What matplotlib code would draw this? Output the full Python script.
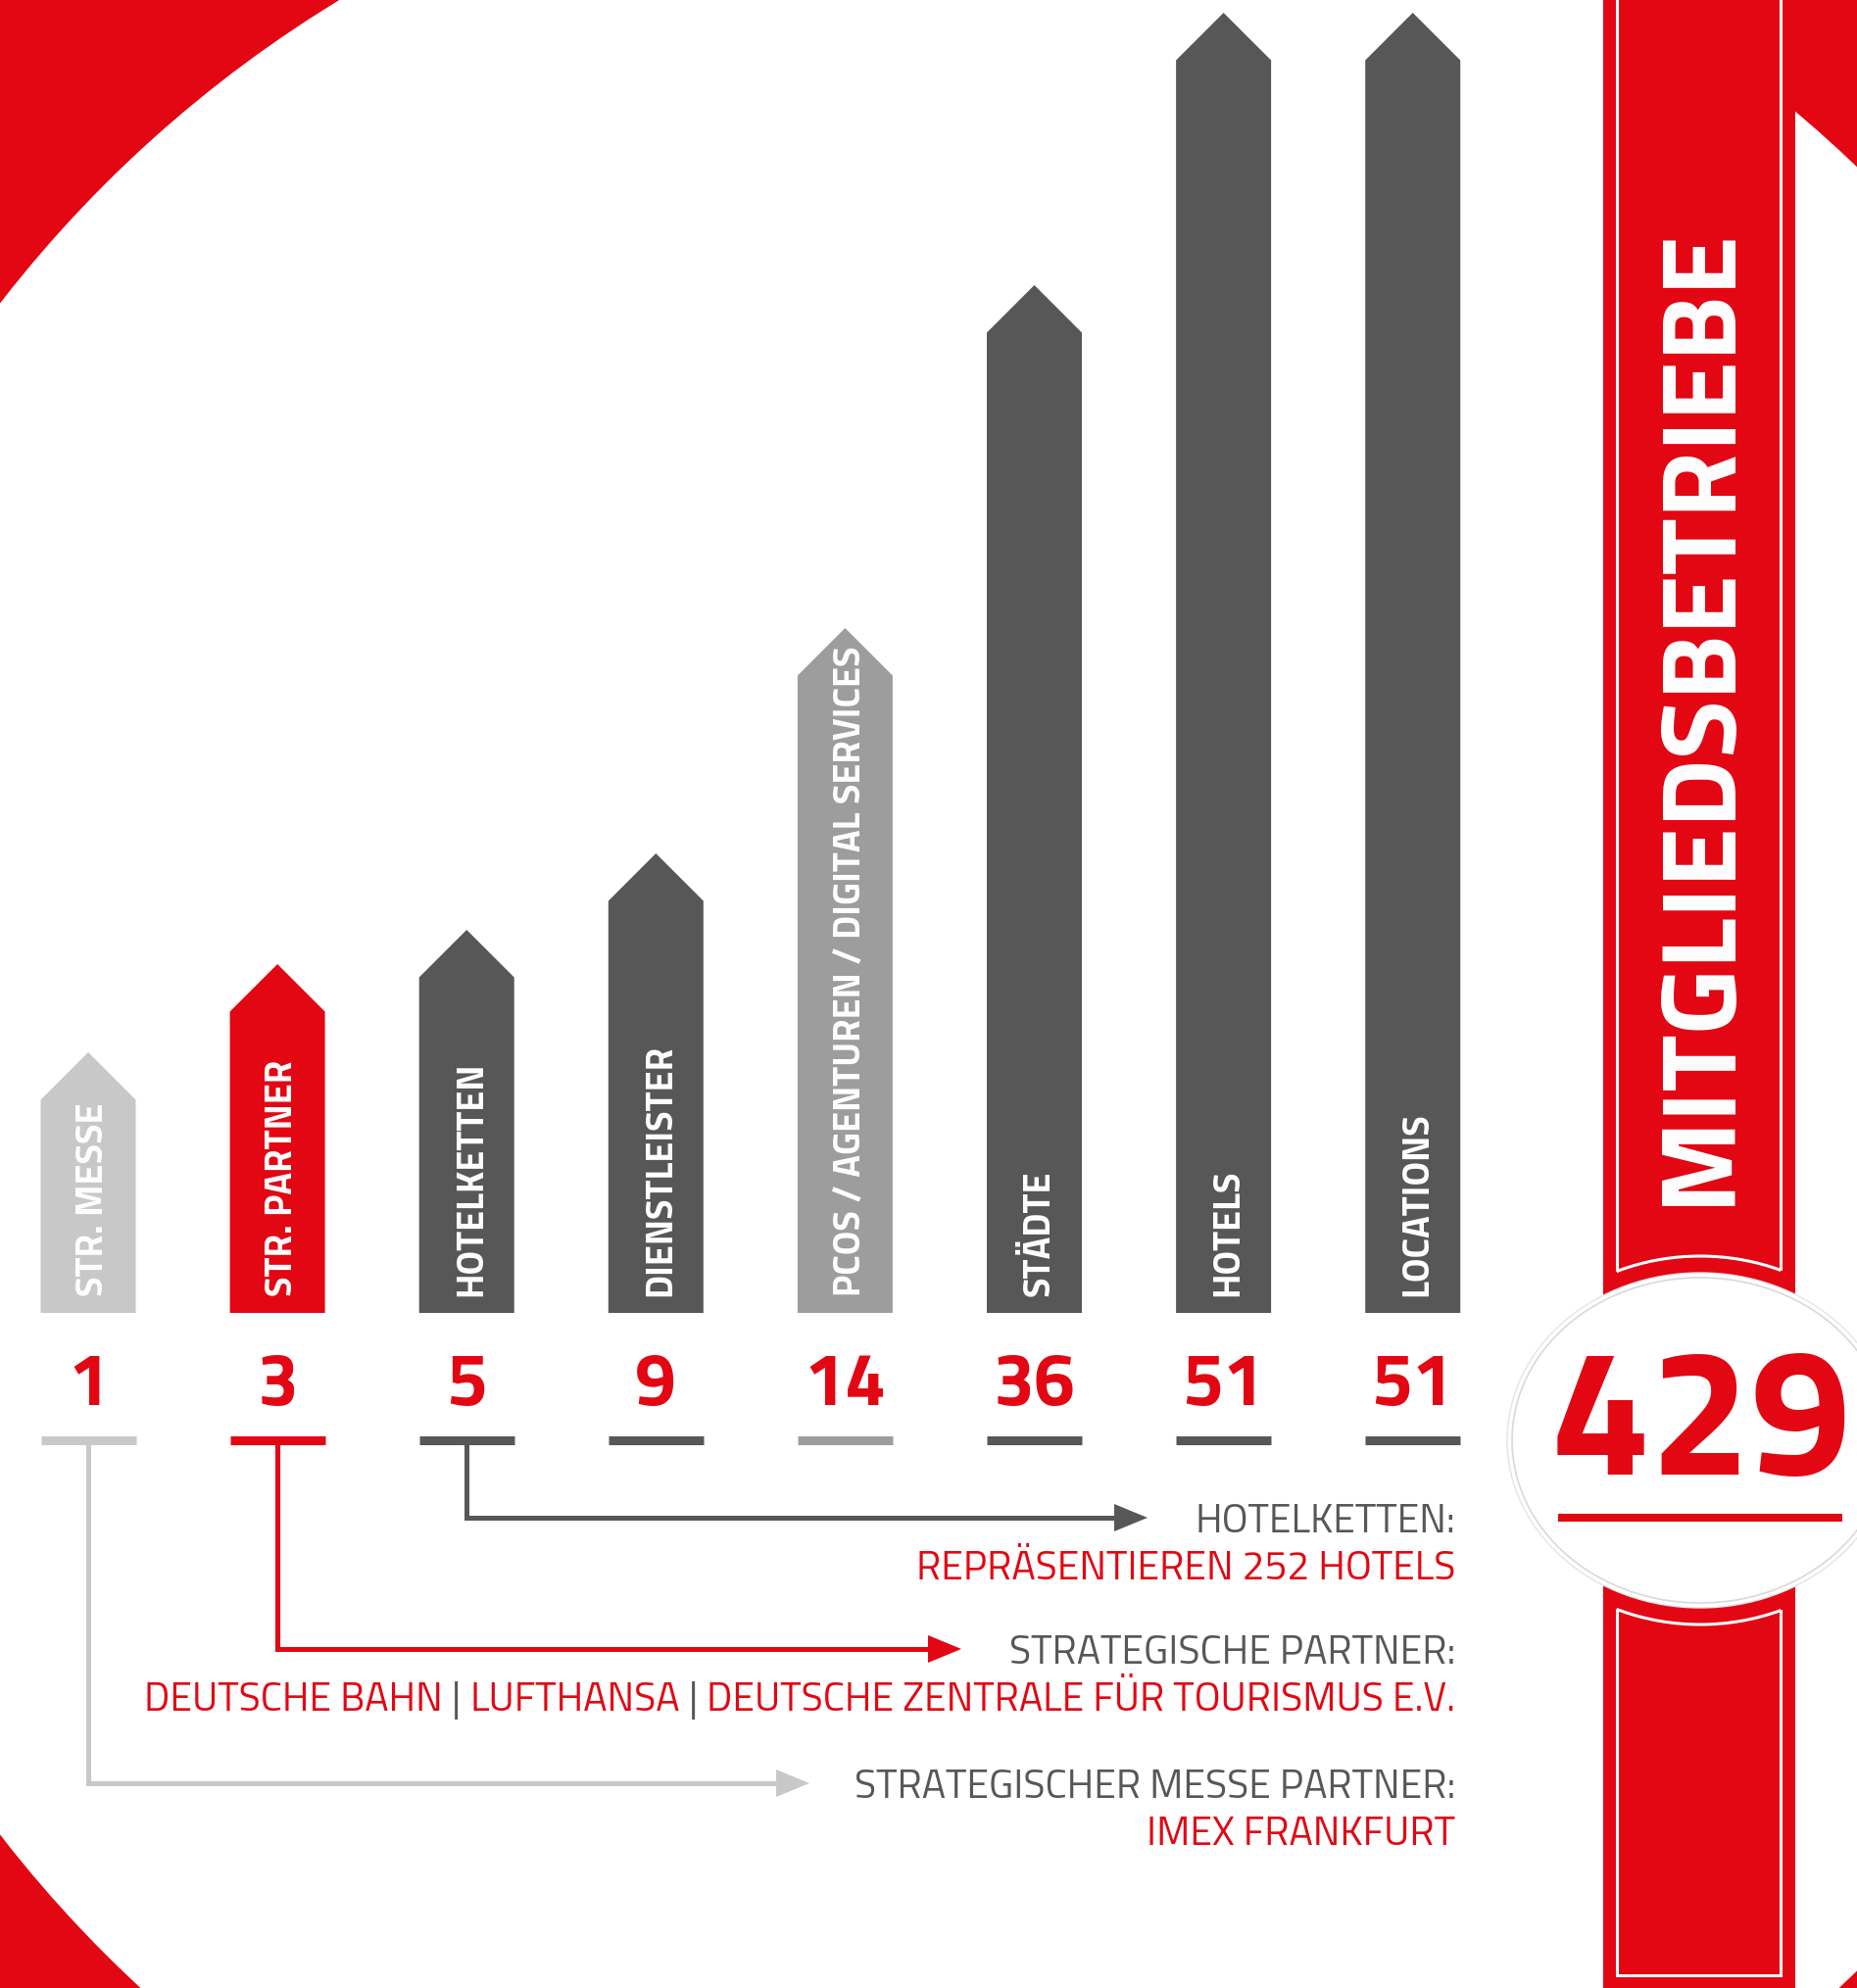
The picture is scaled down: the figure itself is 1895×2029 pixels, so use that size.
import matplotlib.pyplot as plt
from matplotlib.patches import Polygon, Rectangle, Circle, Ellipse

categories = ['STR. MESSE', 'STR. PARTNER', 'HOTELKETTEN', 'DIENSTLEISTER',
              'PCOS / AGENTUREN / DIGITAL SERVICES', 'STÄDTE', 'HOTELS', 'LOCATIONS']
members = [1, 3, 5, 9, 14, 36, 51, 51]
# arrow length as drawn in the original (not proportional to members)
arrow_len = [266, 356, 391, 469, 699, 1049, 1327, 1327]
bar_colors = ['#c8c8c8', '#e30613', '#575757', '#575757',
              '#9d9d9d', '#575757', '#575757', '#575757']
total = 429
total_label = 'MITGLIEDSBETRIEBE'

# connector notes: (bar index, grey heading, red detail pieces)
note_bars = [2, 1, 0]
note_heads = ['HOTELKETTEN:', 'STRATEGISCHE PARTNER:', 'STRATEGISCHER MESSE PARTNER:']
note_details = [['REPRÄSENTIEREN 252 HOTELS'],
                ['DEUTSCHE BAHN', 'LUFTHANSA', 'DEUTSCHE ZENTRALE FÜR TOURISMUS E.V.'],
                ['IMEX FRANKFURT']]

RED = '#e30613'
DARK = '#575757'
FONT = ['Titillium Web', 'DejaVu Sans']
plt.rcParams['font.family'] = FONT

W, H = 1895, 2029
fig = plt.figure(figsize=(W / 100, H / 100), dpi=100)
ax = fig.add_axes([0, 0, 1, 1])
ax.set_xlim(0, W)
ax.set_ylim(H, 0)
ax.axis('off')
rend = fig.canvas.get_renderer()


def fit(t, target, vertical=False):
    # scale the font so the text spans `target` pixels
    bb = t.get_window_extent(rend)
    cur = bb.height if vertical else bb.width
    t.set_fontsize(t.get_fontsize() * target / cur)
    return t.get_fontsize()


# background: red with a big white circle
ax.add_patch(Rectangle((0, 0), W, H, fc=RED, ec='none', zorder=0))
ax.add_patch(Circle((1010, 1091), 1277, fc='white', ec='none', zorder=0.5))

# layout
X0, STEP, BAR_W, BASE = 90, 193.1, 97, 1340
NUM_BASE, LINE_Y = 1434, 1470
hw = BAR_W / 2
centers = [X0 + i * STEP for i in range(len(categories))]

# font sizes from the widest items
probe = ax.text(0, 0, categories[4], fontsize=30, fontweight='bold')
lab_size = fit(probe, 664)
probe.remove()
probe = ax.text(0, 0, '14', fontsize=50, fontweight='bold')
num_size = fit(probe, 84)
probe.remove()
probe = ax.text(0, 0, ' | '.join(note_details[1]), fontsize=30)
note_size = fit(probe, 1334)
probe.remove()

for xc, lab, n, L, c in zip(centers, categories, members, arrow_len, bar_colors):
    top = BASE - L
    pts = [(xc - hw, BASE), (xc - hw, top + hw), (xc, top),
           (xc + hw, top + hw), (xc + hw, BASE)]
    ax.add_patch(Polygon(pts, closed=True, fc=c, ec='none', zorder=2))
    ax.text(xc + 15, BASE - 17, lab, rotation=90, rotation_mode='anchor',
            ha='left', va='baseline', color='white', fontsize=lab_size,
            fontweight='bold', zorder=3)
    ax.text(xc, NUM_BASE, str(n), ha='center', va='baseline', color=RED,
            fontsize=num_size, fontweight='bold', zorder=3)
    ax.plot([xc - hw, xc + hw], [LINE_Y, LINE_Y], color=c, lw=6.5,
            solid_capstyle='butt', zorder=2)

# connectors with arrow heads
conn_y = [1549, 1683, 1820]
conn_tip = [1171, 981, 826]
TEXT_R = 1485
for k, bi in enumerate(note_bars):
    c = bar_colors[bi]
    xc = centers[bi]
    y = conn_y[k]
    ax.plot([xc, xc, conn_tip[k] - 30], [LINE_Y, y, y], color=c, lw=3.6,
            solid_joinstyle='miter', solid_capstyle='butt', zorder=2)
    ax.add_patch(Polygon([(conn_tip[k] - 34, y - 14), (conn_tip[k], y),
                          (conn_tip[k] - 34, y + 14)], fc=c, ec='none', zorder=2))
    ax.text(TEXT_R, y + 15, note_heads[k], ha='right', va='baseline',
            color=DARK, fontsize=note_size)
    # red detail line, pieces separated by grey bars, built right to left
    x = TEXT_R
    yb = y + 63
    pieces = note_details[k]
    for j, piece in enumerate(reversed(pieces)):
        t = ax.text(x, yb, piece, ha='right', va='baseline', color=RED,
                    fontsize=note_size)
        x -= t.get_window_extent(rend).width
        if j < len(pieces) - 1:
            s = ax.text(x, yb, ' | ', ha='right', va='baseline', color=DARK,
                        fontsize=note_size)
            x -= s.get_window_extent(rend).width

# right ribbon with its inner white outline
BX0, BX1 = 1636, 1832
IX0, IX1, IY1 = 1650, 1817, 2016
ax.add_patch(Rectangle((BX0, 0), BX1 - BX0, H, fc=RED, ec='none', zorder=4))
ax.plot([IX0, IX0, IX1, IX1], [0, IY1, IY1, 0], color='white', lw=2.2,
        solid_joinstyle='miter', zorder=4.1)
t = ax.text(1764, 1230, total_label, rotation=90, rotation_mode='anchor',
            ha='left', va='baseline', color='white', fontsize=80,
            fontweight='bold', zorder=5)
fit(t, 1000, vertical=True)

# badge with the total
EC, EW, EH, G = (1735, 1470), 384, 332, 22
ring = Ellipse(EC, EW + 2 * G, EH + 2 * G, fc=RED, ec='none', zorder=4.2)
ax.add_patch(ring)
ring.set_clip_path(Rectangle((BX0, 0), BX1 - BX0, H, transform=ax.transData))
ring_line = Ellipse(EC, EW + 2 * G, EH + 2 * G, fc='none', ec='white',
                    lw=2.2, zorder=4.3)
ax.add_patch(ring_line)
ring_line.set_clip_path(Rectangle((IX0, 0), IX1 - IX0, H, transform=ax.transData))
ax.add_patch(Ellipse(EC, EW + 10, EH + 10, fc='white', ec='#e4e4e4', lw=1.0,
                     zorder=4.35))
ax.add_patch(Ellipse(EC, EW, EH, fc='white', ec='#d9d9d9', lw=1.2, zorder=4.4))
t = ax.text(1736, 1505, str(total), ha='center', va='baseline', color=RED,
            fontsize=120, fontweight='bold', zorder=5)
fit(t, 308)
ax.plot([1590, 1880], [1549, 1549], color=RED, lw=5.8,
        solid_capstyle='butt', zorder=5)

fig.savefig('out.png', dpi=100)
